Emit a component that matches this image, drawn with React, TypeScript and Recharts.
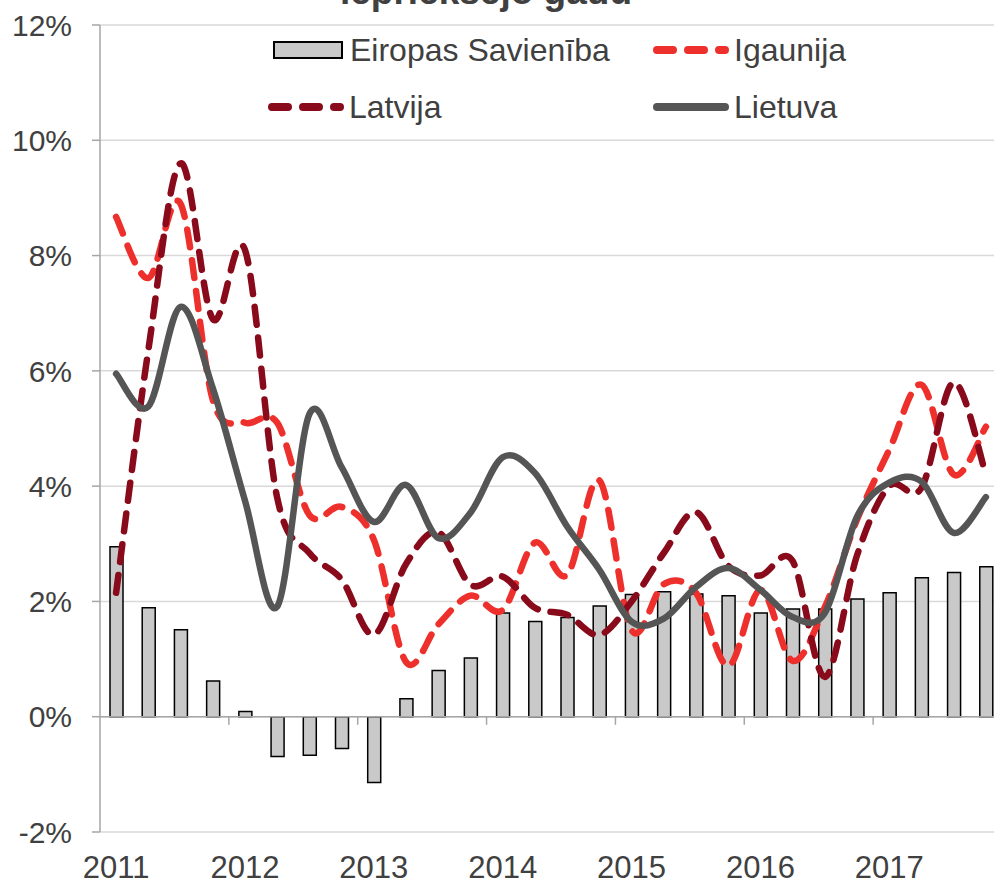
import {
  ComposedChart, Bar, Line, XAxis, YAxis, CartesianGrid, ReferenceLine,
} from 'recharts';

// quarters 2011 Q1 .. 2017 Q4
const years = ['2011', '2012', '2013', '2014', '2015', '2016', '2017'];

const euValues = [
  2.95, 1.89, 1.51, 0.62, 0.09, -0.69, -0.67, -0.55, -1.14, 0.31, 0.8, 1.02, 1.8, 1.65,
  1.72, 1.92, 2.12, 2.17, 2.13, 2.1, 1.8, 1.87, 1.87, 2.04, 2.15, 2.41, 2.5, 2.6,
];
const eeValues = [
  8.67, 7.61, 8.9, 5.5, 5.1, 5.1, 3.5, 3.64, 3.07, 0.95, 1.6, 2.1, 1.85, 3.02,
  2.46, 4.1, 1.5, 2.3, 2.15, 0.88, 2.2, 0.97, 1.9, 3.42, 4.63, 5.76, 4.2, 5.03,
];
const lvValues = [
  2.15, 6.36, 9.6, 6.9, 8.1, 3.8, 2.84, 2.38, 1.42, 2.65, 3.2, 2.29, 2.43, 1.89,
  1.77, 1.42, 2.0, 2.84, 3.55, 2.62, 2.45, 2.7, 0.69, 2.8, 4.0, 3.97, 5.8, 4.2,
];
const ltValues = [
  5.95, 5.38, 7.11, 5.7, 3.75, 1.91, 5.25, 4.33, 3.38, 4.02, 3.1, 3.54, 4.5, 4.23,
  3.3, 2.55, 1.65, 1.7, 2.25, 2.58, 2.2, 1.73, 1.8, 3.47, 4.06, 4.08, 3.19, 3.81,
];

const yTicks = [-2, 0, 2, 4, 6, 8, 10, 12];

const data = euValues.map((eu, i) => ({
  x: i,
  eu,
  ee: eeValues[i],
  lv: lvValues[i],
  lt: ltValues[i],
}));

const yearTicks = years.map((_, i) => i * 4);
const yearBounds = years.slice(1).map((_, i) => (i + 1) * 4 - 0.5);

const TEXT = '#404040';
const EE_COLOR = '#ee302c';
const LV_COLOR = '#880a1b';
const LT_COLOR = '#555555';

// Excel-like smoothed line (Catmull-Rom through the points)
function smoothCurve(context: any) {
  let pts: number[][] = [];
  return {
    areaStart() {},
    areaEnd() {},
    lineStart() { pts = []; },
    point(x: number, y: number) { pts.push([+x, +y]); },
    lineEnd() {
      if (!pts.length) return;
      context.moveTo(pts[0][0], pts[0][1]);
      const t = 1 / 6;
      for (let i = 0; i < pts.length - 1; i++) {
        const p0 = pts[i - 1] || pts[i];
        const p1 = pts[i];
        const p2 = pts[i + 1];
        const p3 = pts[i + 2] || p2;
        context.bezierCurveTo(
          p1[0] + (p2[0] - p0[0]) * t, p1[1] + (p2[1] - p0[1]) * t,
          p2[0] - (p3[0] - p1[0]) * t, p2[1] - (p3[1] - p1[1]) * t,
          p2[0], p2[1],
        );
      }
    },
  };
}

function LineSwatch({ color, dashed }: { color: string; dashed?: boolean }) {
  return (
    <svg width={80} height={16} style={{ marginRight: 2 }}>
      <line x1={5} y1={8} x2={73} y2={8} stroke={color} strokeWidth={8} strokeLinecap="round"
        strokeDasharray={dashed ? '16 15' : undefined} />
    </svg>
  );
}

function LegendItem({ left, top, label, children }: { left: number; top: number; label: string; children: any }) {
  return (
    <div style={{ position: 'absolute', left, top, height: 40, display: 'flex', alignItems: 'center', whiteSpace: 'nowrap' }}>
      {children}
      <span style={{ fontSize: 32, color: TEXT }}>{label}</span>
    </div>
  );
}

export default function App() {
  return (
    <div style={{
      position: 'absolute', left: 0, top: 0, width: 994, height: 885, overflow: 'hidden',
      background: '#fff', fontFamily: '"Liberation Sans", Arial, sans-serif',
    }}>
      <div style={{
        position: 'absolute', left: 340, top: -27, fontSize: 37, fontWeight: 'bold',
        color: TEXT, whiteSpace: 'nowrap', lineHeight: 1,
      }}>
        iepriekšējo gadu
      </div>

      <ComposedChart width={1002} height={885} data={data}
        margin={{ top: 25, right: 0, bottom: 0, left: 0 }}>
        <CartesianGrid vertical={false} stroke="#d9d9d9" strokeWidth={1.5} />
        <XAxis dataKey="x" type="number" domain={[-0.5, 27.5]} ticks={yearTicks}
          tickFormatter={v => years[v / 4]} axisLine={false} tickLine={false}
          tickSize={0} tickMargin={24} height={53}
          tick={{ fill: TEXT, fontSize: 31 }} />
        <YAxis domain={[-2, 12]} ticks={yTicks} width={100} tickFormatter={v => `${v}%`}
          axisLine={{ stroke: '#a6a6a6', strokeWidth: 1.5 }}
          tickLine={{ stroke: '#a6a6a6', strokeWidth: 1.5 }}
          tickSize={8} tickMargin={20} tick={{ fill: TEXT, fontSize: 30 }} />

        <ReferenceLine y={0} stroke="#a6a6a6" strokeWidth={1.5} />
        {yearBounds.map(b => (
          <ReferenceLine key={b} segment={[{ x: b, y: 0 }, { x: b, y: -0.14 }]}
            stroke="#a6a6a6" strokeWidth={1.5} ifOverflow="visible" />
        ))}

        <Bar dataKey="eu" name="Eiropas Savienība" barSize={13} fill="#c9c9c9"
          stroke="#000" strokeWidth={1.5} isAnimationActive={false} />
        <Line dataKey="ee" name="Igaunija" type={smoothCurve as any} stroke={EE_COLOR}
          strokeWidth={6.5} strokeDasharray="18 13" strokeLinecap="round" dot={false}
          activeDot={false} isAnimationActive={false} />
        <Line dataKey="lv" name="Latvija" type={smoothCurve as any} stroke={LV_COLOR}
          strokeWidth={6.5} strokeDasharray="18 13" strokeLinecap="round" dot={false}
          activeDot={false} isAnimationActive={false} />
        <Line dataKey="lt" name="Lietuva" type={smoothCurve as any} stroke={LT_COLOR}
          strokeWidth={6.5} strokeLinecap="round" dot={false}
          activeDot={false} isAnimationActive={false} />
      </ComposedChart>

      <LegendItem left={272} top={30} label="Eiropas Savienība">
        <svg width={78} height={20}>
          <rect x={2} y={2} width={68} height={16} fill="#c9c9c9" stroke="#000" strokeWidth={2} />
        </svg>
      </LegendItem>
      <LegendItem left={652} top={30} label="Igaunija">
        <LineSwatch color={EE_COLOR} dashed />
      </LegendItem>
      <LegendItem left={267} top={87} label="Latvija">
        <LineSwatch color={LV_COLOR} dashed />
      </LegendItem>
      <LegendItem left={652} top={87} label="Lietuva">
        <LineSwatch color={LT_COLOR} />
      </LegendItem>
    </div>
  );
}
